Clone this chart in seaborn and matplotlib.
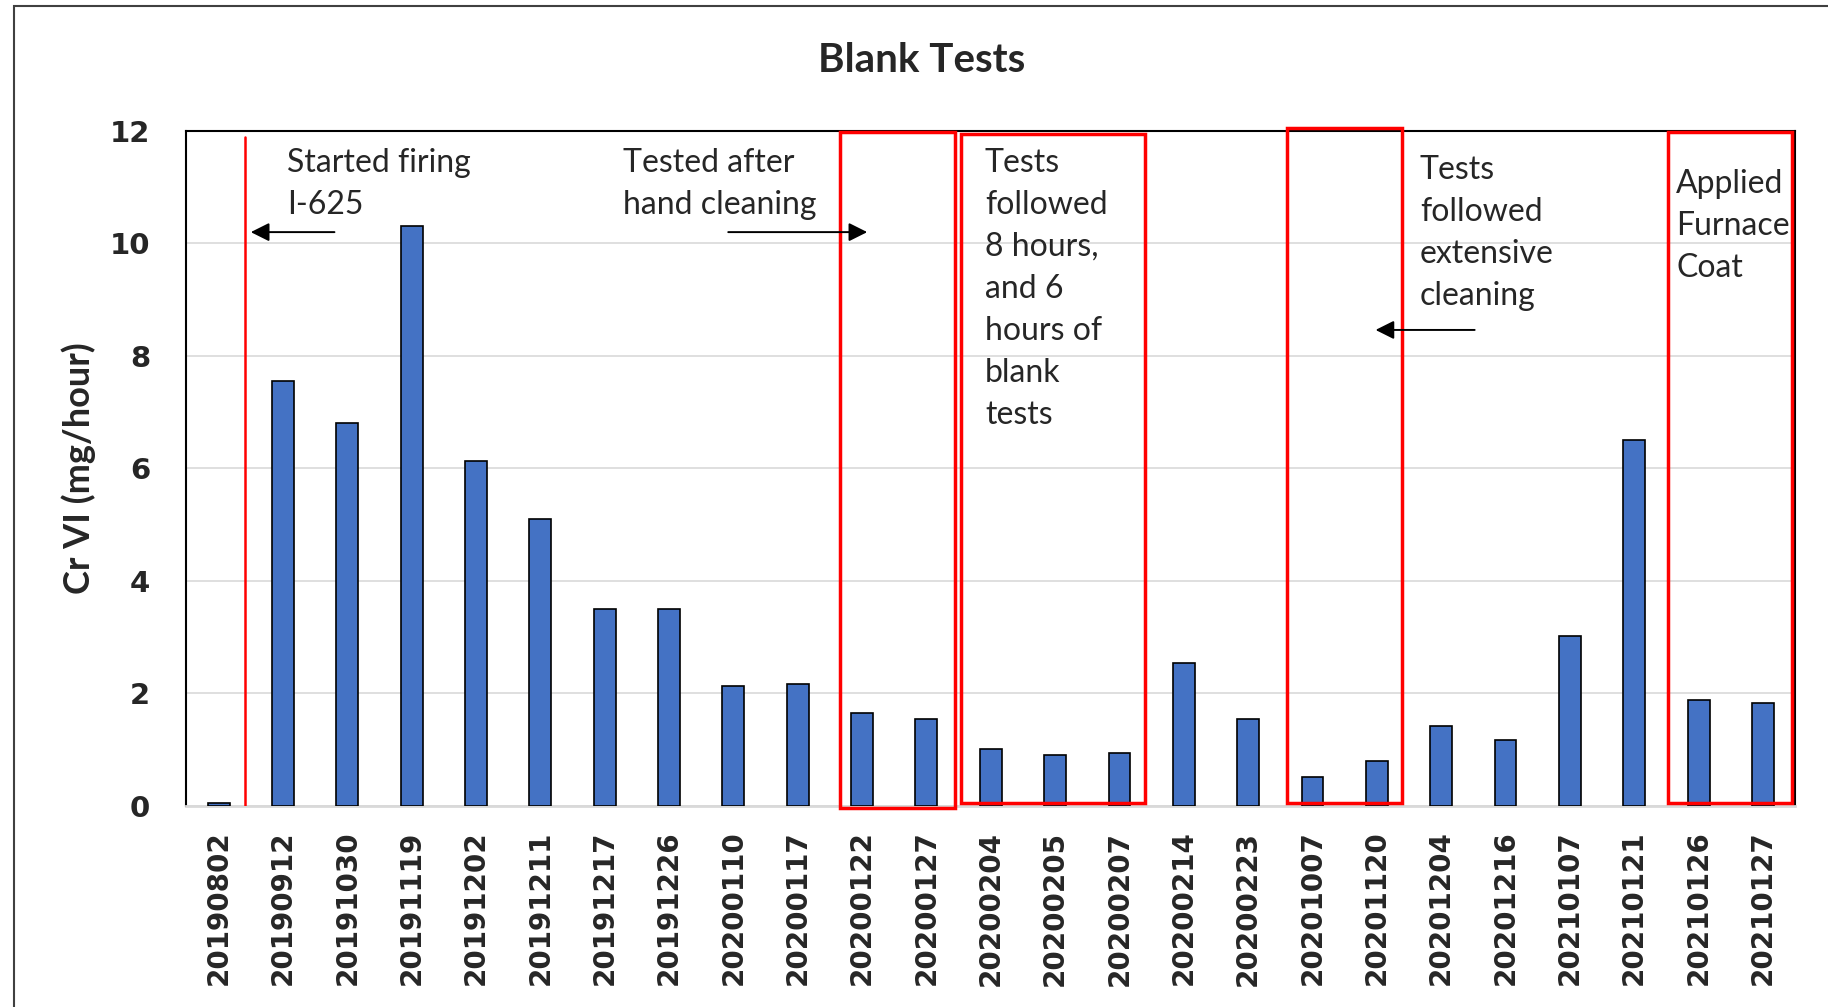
import numpy as np
import pandas as pd
import matplotlib
matplotlib.use('Agg')
import matplotlib.pyplot as plt
from matplotlib.patches import Rectangle
import seaborn as sns

test_dates = ['20190802', '20190912', '20191030', '20191119', '20191202', '20191211',
              '20191217', '20191226', '20200110', '20200117', '20200122', '20200127',
              '20200204', '20200205', '20200207', '20200214', '20200223', '20201007',
              '20201120', '20201204', '20201216', '20210107', '20210121', '20210126',
              '20210127']
cr_vi = [0.05, 7.55, 6.8, 10.3, 6.13, 5.1, 3.49, 3.49, 2.12, 2.16, 1.65, 1.54,
         1.0, 0.9, 0.94, 2.54, 1.54, 0.51, 0.8, 1.42, 1.17, 3.01, 6.51, 1.87, 1.83]
y_ticks = [0, 2, 4, 6, 8, 10, 12]

# red boxes: (x0, x1, y0, y1) in category / value units
boxes = [(9.66, 11.44, -0.04, 11.98),
         (11.53, 14.39, 0.04, 11.94),
         (16.60, 18.39, 0.04, 12.06),
         (22.52, 24.45, 0.04, 11.98)]
notes = [(1.06, 11.70, 'Started firing\nI-625'),
         (6.28, 11.70, 'Tested after\nhand cleaning'),
         (11.91, 11.70, 'Tests\nfollowed\n8 hours,\nand 6\nhours of\nblank\ntests'),
         (18.67, 11.58, 'Tests\nfollowed\nextensive\ncleaning'),
         (22.65, 11.33, 'Applied\nFurnace\nCoat')]
arrows = [((1.80, 10.2), (0.50, 10.2)),
          ((7.92, 10.2), (10.08, 10.2)),
          ((19.52, 8.46), (17.98, 8.46))]

df = pd.DataFrame({'date': test_dates, 'crvi': cr_vi})

sns.set_style('white')
plt.rcParams['font.family'] = ['DejaVu Sans']

fig = plt.figure(figsize=(18.28, 10.07), dpi=100)
ax = fig.add_axes([0.102, 0.200, 0.880, 0.670])

sns.barplot(data=df, x='date', y='crvi', color='#4472C4', saturation=1,
            width=0.34, edgecolor='black', linewidth=1.2, ax=ax, zorder=3)

ax.set_ylim(0, 12)
ax.set_xlim(-0.5, len(test_dates) - 0.5)
ax.set_yticks(y_ticks)
ax.yaxis.grid(True, color='#d9d9d9', lw=1.2, zorder=0)
ax.set_axisbelow(True)
ax.tick_params(axis='both', length=0)
ax.tick_params(axis='y', pad=26)
ax.tick_params(axis='x', pad=18)
for lab in ax.get_yticklabels():
    lab.set_fontsize(21)
    lab.set_fontweight('bold')
for lab in ax.get_xticklabels():
    lab.set_fontsize(20)
    lab.set_fontweight('bold')
    lab.set_rotation(90)

ax.set_xlabel('')
ax.set_ylabel('Cr VI (mg/hour)', fontsize=26, fontweight='bold',
              family=['Lato', 'DejaVu Sans'], labelpad=10)

for side in ['left', 'top', 'right']:
    ax.spines[side].set_color('black')
    ax.spines[side].set_linewidth(1.5)
ax.spines['bottom'].set_color('#d9d9d9')
ax.spines['bottom'].set_linewidth(2)

ax.plot([0.41, 0.41], [0, 11.9], color='red', lw=1.8, zorder=4)
for x0, x1, y0, y1 in boxes:
    ax.add_patch(Rectangle((x0, y0), x1 - x0, y1 - y0, fill=False,
                           edgecolor='red', lw=2.5, clip_on=False, zorder=5))

for x, y, txt in notes:
    ax.text(x, y, txt, ha='left', va='top', fontsize=23, linespacing=1.5,
            family=['Lato', 'DejaVu Sans'], zorder=6)

for start, end in arrows:
    ax.annotate('', xy=end, xytext=start,
                arrowprops=dict(arrowstyle='-|>', color='black', lw=1.4,
                                mutation_scale=28, shrinkA=0, shrinkB=0),
                zorder=6)

fig.text(0.504, 0.940, 'Blank Tests', ha='center', va='center', fontsize=29,
         fontweight='bold', family=['Lato', 'DejaVu Sans'])

fig.patches.append(Rectangle((0.0077, -0.05), 1.2, 0.994 + 0.05, fill=False,
                             edgecolor='#404040', lw=1.5,
                             transform=fig.transFigure, figure=fig))

fig.savefig('out.png', dpi=100)
